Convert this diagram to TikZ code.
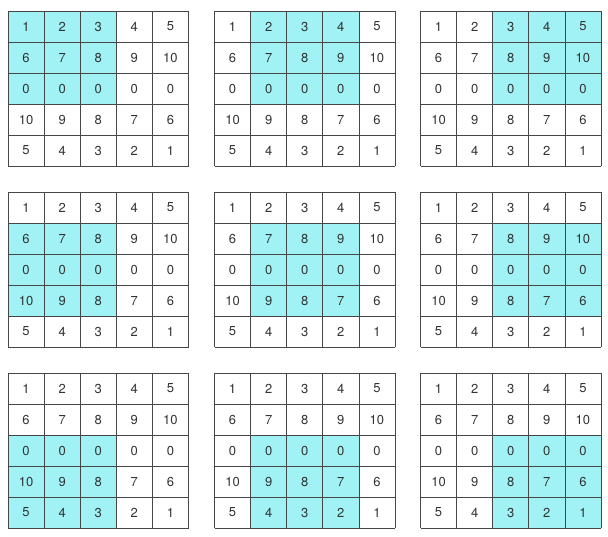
\documentclass[tikz,border=0pt]{standalone}
\usepackage{fontspec}
\setsansfont{TeX Gyre Heros}

\definecolor{hilite}{RGB}{160,242,245}
\definecolor{gridgray}{RGB}{70,70,70}

\tikzset{
    cellnum/.style = {font = {\sffamily\fontsize{13}{14}\selectfont}, text = black!80},
    cellline/.style = {color = gridgray, line width = 0.8pt},
}

% one 5x5 table: name, left, top, first shaded column, first shaded row
\newcommand{\numgrid}[5]{%
    \begin{scope}[shift={(#2,#3)}, x=36.1pt, y=-31pt]
        \fill[hilite] (#4,#5) rectangle ++(3,3);
        \foreach \k in {0,...,5} {
            \draw[cellline] (\k,0) -- (\k,5);
            \draw[cellline] (0,\k) -- (5,\k);
        }
        \foreach \line [count=\r from 0] in {{1,2,3,4,5},{6,7,8,9,10},{0,0,0,0,0},{10,9,8,7,6},{5,4,3,2,1}}
            \foreach \v [count=\c from 0] in \line
                \node[cellnum] (#1-\r-\c) at (\c+0.5, \r+0.5) {\v};
    \end{scope}
}

\begin{document}
\begin{tikzpicture}[x=1pt, y=-1pt]
        \useasboundingbox (0,0) rectangle (608,536);

        \numgrid{ga}{8}{11}{0}{0}
        \numgrid{gb}{214.5}{11}{1}{0}
        \numgrid{gc}{420.5}{11}{2}{0}

        \numgrid{gd}{8}{192}{0}{1}
        \numgrid{ge}{214.5}{192}{1}{1}
        \numgrid{gf}{420.5}{192}{2}{1}

        \numgrid{gg}{8}{373}{0}{2}
        \numgrid{gh}{214.5}{373}{1}{2}
        \numgrid{gi}{420.5}{373}{2}{2}
\end{tikzpicture}
\end{document}
